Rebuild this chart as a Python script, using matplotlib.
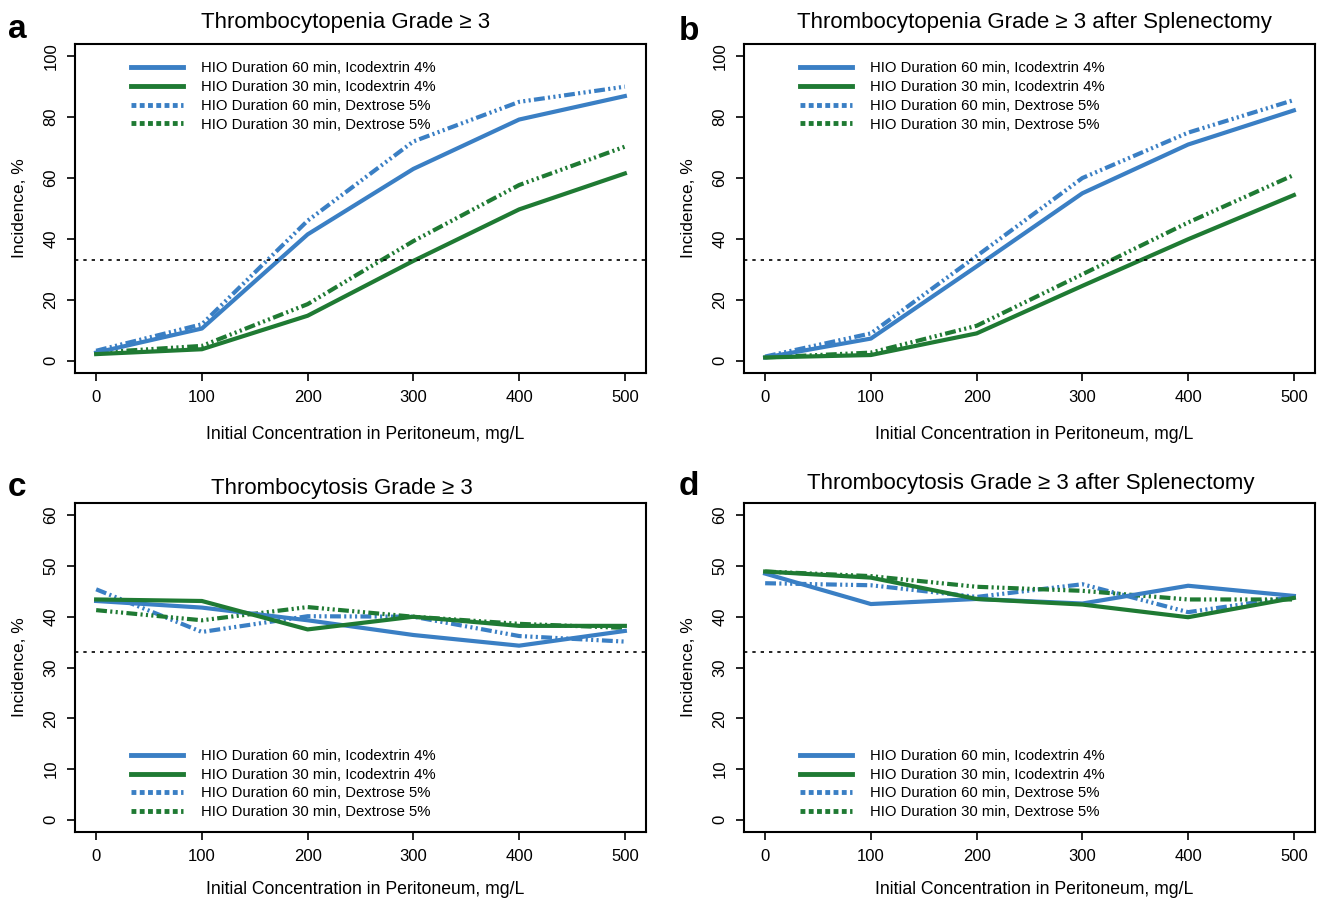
import matplotlib
matplotlib.use("Agg")
import matplotlib.pyplot as plt
from matplotlib.lines import Line2D

plt.rcParams['font.family'] = ['Liberation Sans', 'DejaVu Sans']

# datos
conc = [0, 100, 200, 300, 400, 500]

labels = ["HIO Duration 60 min, Icodextrin 4%",
          "HIO Duration 30 min, Icodextrin 4%",
          "HIO Duration 60 min, Dextrose 5%",
          "HIO Duration 30 min, Dextrose 5%"]

# a - Thrombocytopenia
a_60_ico = [2.7, 10.6, 41.5, 63, 79.2, 86.9]
a_30_ico = [2.2, 3.8, 14.8, 32.8, 49.7, 61.5]
a_60_dex = [3.3, 12, 46, 72, 85, 90]
a_30_dex = [2.7, 4.9, 18.6, 39.3, 57.7, 70.3]

# b - Thrombocytopenia after splenectomy
b_60_ico = [1.1, 7.3, 31, 55, 71, 82.2]
b_30_ico = [1.1, 1.9, 9, 24.6, 39.9, 54.4]
b_60_dex = [1.4, 9, 34.4, 60, 74.9, 85.6]
b_30_dex = [1.1, 2.7, 11.5, 28.4, 45.4, 61]

# c - Thrombocytosis
c_60_ico = [43.1, 41.8, 39.3, 36.4, 34.3, 37.2]
c_30_ico = [43.4, 43.1, 37.5, 40, 38.2, 38.2]
c_60_dex = [45.4, 37, 40.1, 40, 36.2, 35.1]
c_30_dex = [41.3, 39.3, 41.9, 40, 38.6, 37.8]

# d - Thrombocytosis after splenectomy
d_60_ico = [48.5, 42.5, 43.5, 42.6, 46.1, 44.1]
d_30_ico = [48.9, 47.7, 43.5, 42.4, 39.9, 43.7]
d_60_dex = [46.6, 46.2, 43.9, 46.4, 40.9, 43.9]
d_30_dex = [48.9, 48, 45.9, 45.1, 43.4, 43.4]

threshold = 33

titles = ["Thrombocytopenia Grade \u2265 3",
          "Thrombocytopenia Grade \u2265 3 after Splenectomy",
          "Thrombocytosis Grade \u2265 3",
          "Thrombocytosis Grade \u2265 3 after Splenectomy"]
letters = ["a", "b", "c", "d"]

blue = "#3a7fc4"
green = "#1f7a33"
dexstyle = (0, (2.6, 0.8, 0.5, 0.8, 0.5, 0.8, 0.5, 0.8))

fig = plt.figure(figsize=(13.22, 9.02), dpi=100)

# posiciones de los ejes (fraccion de la figura)
W, H = 571 / 1322, 329 / 902
pos = [(75 / 1322, 1 - 373 / 902), (744 / 1322, 1 - 373 / 902),
       (75 / 1322, 1 - 832 / 902), (744 / 1322, 1 - 832 / 902)]

datos = [(a_60_ico, a_30_ico, a_60_dex, a_30_dex),
         (b_60_ico, b_30_ico, b_60_dex, b_30_dex),
         (c_60_ico, c_30_ico, c_60_dex, c_30_dex),
         (d_60_ico, d_30_ico, d_60_dex, d_30_dex)]

title_pad = [11.5, 11.5, 6.5, 10]
title_x = [0.473, 0.508, 0.468, 0.503]
xlab_y = [-0.16, -0.16, -0.15, -0.15]
letter_y = [1 - 38 / 902, 1 - 40 / 902, 1 - 496 / 902, 1 - 495 / 902]
letter_x = [8 / 1322, 679 / 1322, 8 / 1322, 679 / 1322]

for i in range(4):
    ax = fig.add_axes([pos[i][0], pos[i][1], W, H])
    s60i, s30i, s60d, s30d = datos[i]
    ax.plot(conc, s60d, color=blue, lw=3, ls=dexstyle)
    ax.plot(conc, s30d, color=green, lw=3, ls=dexstyle)
    ax.plot(conc, s60i, color=blue, lw=3)
    ax.plot(conc, s30i, color=green, lw=3)
    ax.axhline(threshold, color="black", lw=1.2, ls=(0, (2, 3)))

    ax.set_xlim(-20, 520)
    ax.set_xticks(conc)
    if i < 2:
        ax.set_ylim(-4, 104)
        ax.set_yticks([0, 20, 40, 60, 80, 100])
    else:
        ax.set_ylim(-2.4, 62.4)
        ax.set_yticks([0, 10, 20, 30, 40, 50, 60])

    ax.tick_params(direction="out", length=6, width=1.2, labelsize=12, pad=6)
    for lab in ax.get_yticklabels():
        lab.set_rotation(90)
        lab.set_va("center")
    for sp in ax.spines.values():
        sp.set_linewidth(1.5)

    ax.set_xlabel("Initial Concentration in Peritoneum, mg/L", fontsize=12.7)
    ax.xaxis.set_label_coords(0.509, xlab_y[i])
    ax.set_ylabel("Incidence, %", fontsize=12.5, labelpad=12)
    ax.set_title(titles[i], fontsize=16, pad=title_pad[i], x=title_x[i])

    handles = [Line2D([], [], color=blue, lw=3.5),
               Line2D([], [], color=green, lw=3.5),
               Line2D([], [], color=blue, lw=3.5, ls=(0, (1, 0.7))),
               Line2D([], [], color=green, lw=3.5, ls=(0, (1, 0.7)))]
    if i < 2:
        anchor = (0.085, 0.97)
    else:
        anchor = (0.085, 0.275)
    ax.legend(handles, labels, loc="upper left", bbox_to_anchor=anchor,
              frameon=False, fontsize=10.7, handlelength=3.5,
              handletextpad=1.2, labelspacing=0.32, borderpad=0)

    fig.text(letter_x[i], letter_y[i], letters[i], fontsize=24,
             fontweight="bold", va="baseline")

fig.savefig("out.png", dpi=100)
